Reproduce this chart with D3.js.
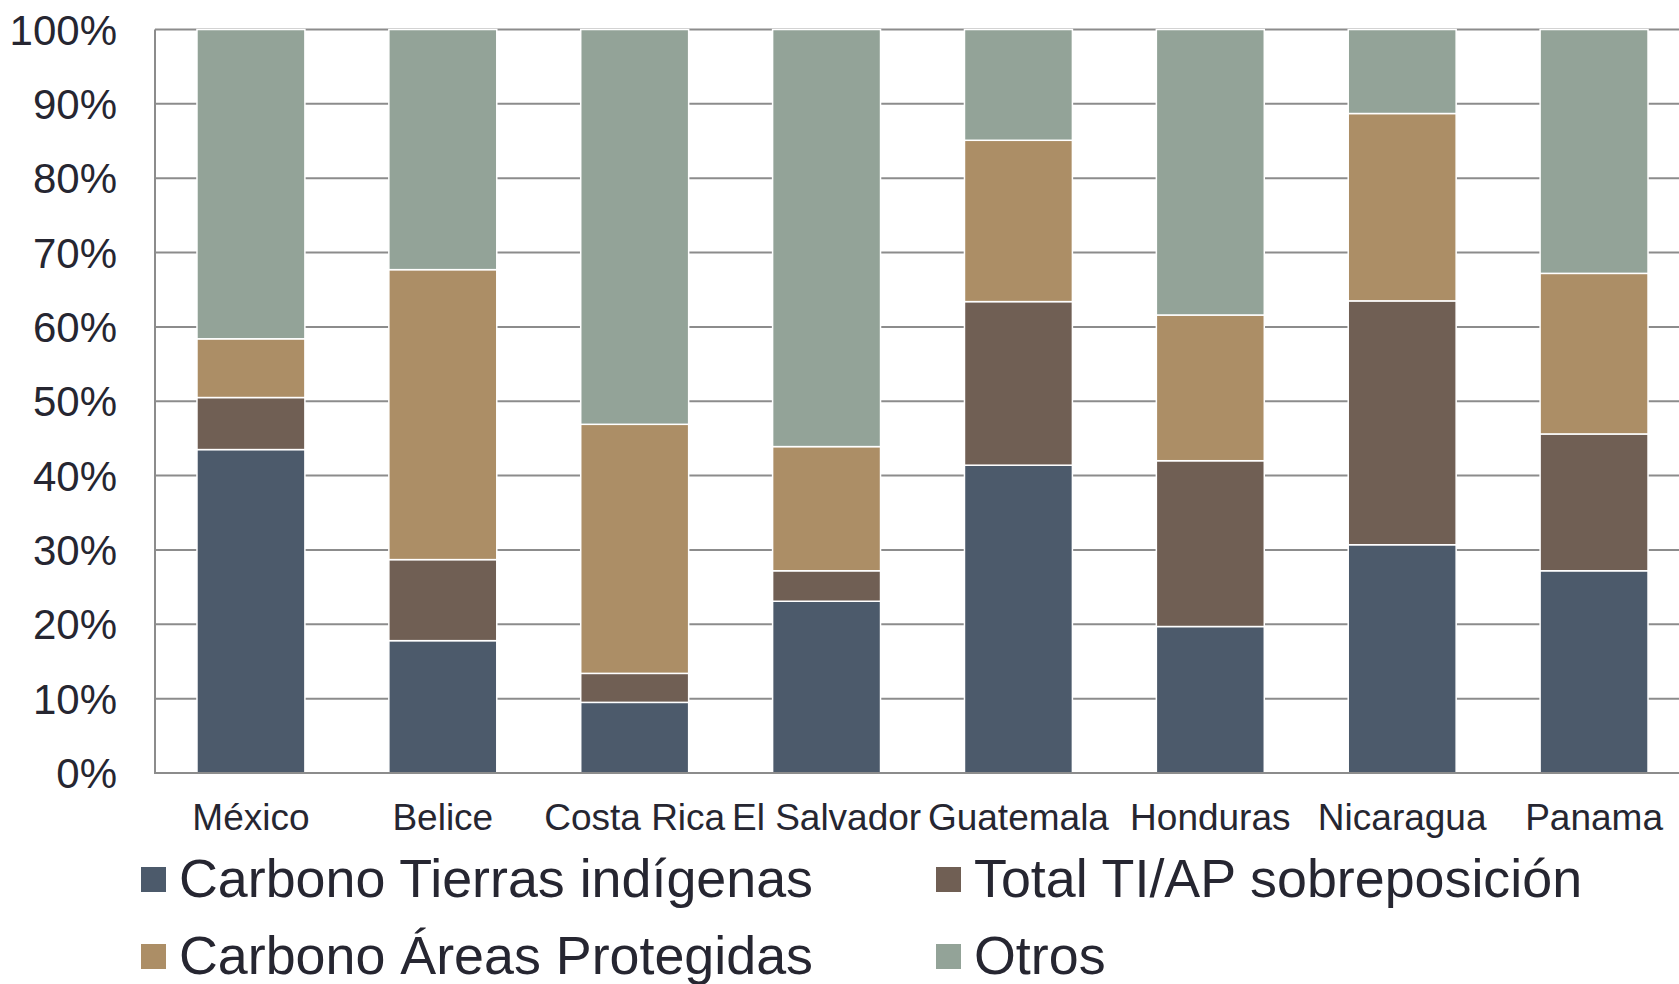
<!DOCTYPE html>
<html>
<head>
<meta charset="utf-8">
<script src="https://cdn.jsdelivr.net/npm/d3@7"></script>
<style>
  html, body { margin: 0; padding: 0; background: #ffffff; overflow: hidden; }
  svg { display: block; }
  text { font-family: "Liberation Sans", Arial, sans-serif; fill: #262631; }
</style>
</head>
<body>
<script>
// ---- Data (percent of total carbon) ----
const categories = ["México", "Belice", "Costa Rica", "El Salvador", "Guatemala", "Honduras", "Nicaragua", "Panama"];
const seriesNames = ["Carbono Tierras indígenas", "Total TI/AP sobreposición", "Carbono Áreas Protegidas", "Otros"];
const carbonoTI      = [43.5, 17.8,  9.5, 23.1, 41.4, 19.7, 30.7, 27.2];
const sobreposicion  = [ 7.0, 10.9,  3.9,  4.1, 22.0, 22.3, 32.8, 18.4];
const carbonoAP      = [ 7.9, 39.0, 33.5, 16.7, 21.7, 19.6, 25.2, 21.6];
const otros          = [41.6, 32.3, 53.1, 56.1, 14.9, 38.4, 11.3, 32.8];
const yTicks = [0, 10, 20, 30, 40, 50, 60, 70, 80, 90, 100];
const colors = ["#4c5a6b", "#705f54", "#ac8e66", "#93a398"];

const W = 1679, H = 984;
const svg = d3.select("body").append("svg").attr("width", W).attr("height", H);

const plotLeft = 155, plotRight = 1690, plotTop = 29.5, plotBottom = 773;

const x = d3.scaleBand().domain(categories).range([plotLeft, plotRight])
  .paddingInner(0.4375).paddingOuter(0.21875);
const y = d3.scaleLinear().domain([0, 100]).range([plotBottom, plotTop]);

const rows = categories.map((c, i) => ({
  cat: c,
  [seriesNames[0]]: carbonoTI[i],
  [seriesNames[1]]: sobreposicion[i],
  [seriesNames[2]]: carbonoAP[i],
  [seriesNames[3]]: otros[i]
}));
const stacked = d3.stack().keys(seriesNames)(rows);

// gridlines
svg.append("g").selectAll("line").data(yTicks.filter(t => t > 0)).join("line")
  .attr("x1", plotLeft).attr("x2", plotRight)
  .attr("y1", d => y(d)).attr("y2", d => y(d))
  .attr("stroke", "#8c8c8c").attr("stroke-width", 2);

// bars
const g = svg.append("g");
stacked.forEach((layer, si) => {
  g.append("g").selectAll("rect").data(layer).join("rect")
    .attr("x", d => x(d.data.cat))
    .attr("width", x.bandwidth())
    .attr("y", d => y(d[1]))
    .attr("height", d => y(d[0]) - y(d[1]))
    .attr("fill", colors[si])
    .attr("stroke", "#ffffff").attr("stroke-width", 1.5);
});

// axes lines
svg.append("line").attr("x1", plotLeft).attr("x2", plotLeft)
  .attr("y1", plotTop).attr("y2", plotBottom)
  .attr("stroke", "#8c8c8c").attr("stroke-width", 2);
svg.append("line").attr("x1", plotLeft - 1).attr("x2", plotRight)
  .attr("y1", plotBottom).attr("y2", plotBottom)
  .attr("stroke", "#8c8c8c").attr("stroke-width", 2);

// y tick labels
svg.append("g").selectAll("text").data(yTicks).join("text")
  .attr("x", 117).attr("y", d => y(d)).attr("dy", "0.36em")
  .attr("text-anchor", "end").attr("font-size", 42)
  .text(d => d + "%");

// category labels
svg.append("g").selectAll("text").data(categories).join("text")
  .attr("x", d => x(d) + x.bandwidth() / 2).attr("y", 830)
  .attr("text-anchor", "middle").attr("font-size", 37)
  .text(d => d);

// legend
const legendPos = [
  { x: 141, y: 867 }, { x: 936, y: 867 },
  { x: 141, y: 944 }, { x: 936, y: 944 }
];
const lg = svg.append("g");
seriesNames.forEach((name, i) => {
  const p = legendPos[i];
  lg.append("rect").attr("x", p.x).attr("y", p.y).attr("width", 25).attr("height", 25)
    .attr("fill", colors[i]);
  lg.append("text").attr("x", p.x + 38).attr("y", p.y + 30)
    .attr("font-size", 53.8).text(name);
});
</script>
</body>
</html>
